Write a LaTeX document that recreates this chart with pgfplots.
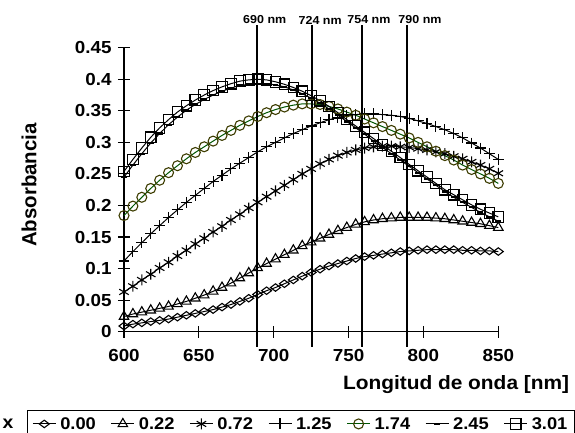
\documentclass[border=0pt]{standalone}
\usepackage{pgfplots}
\pgfplotsset{compat=1.18}
\usepackage{pgfplotstable}
\usepackage{fontspec}
\setmainfont{Liberation Sans}[FakeStretch=1.08]
\newfontfamily\plainfont{Liberation Sans}
\definecolor{olivec}{RGB}{60,60,0}
\definecolor{greenl}{RGB}{0,85,0}

\pgfplotstableread{
nm a b c d e f g
600 0.009 0.024 0.063 0.112 0.184 0.245 0.254
605.95 0.012 0.028 0.072 0.127 0.199 0.264 0.273
611.9 0.014 0.031 0.082 0.141 0.213 0.282 0.291
617.86 0.016 0.034 0.091 0.155 0.227 0.299 0.308
623.81 0.018 0.037 0.101 0.168 0.240 0.314 0.323
629.76 0.020 0.040 0.110 0.181 0.252 0.328 0.336
635.71 0.023 0.044 0.120 0.193 0.263 0.340 0.348
641.67 0.026 0.048 0.129 0.205 0.274 0.351 0.358
647.62 0.029 0.053 0.139 0.216 0.284 0.360 0.367
653.57 0.032 0.058 0.148 0.227 0.293 0.368 0.375
659.52 0.035 0.064 0.158 0.238 0.302 0.375 0.382
665.48 0.039 0.070 0.167 0.248 0.311 0.381 0.388
671.43 0.043 0.077 0.177 0.258 0.319 0.386 0.393
677.38 0.048 0.085 0.186 0.267 0.327 0.390 0.397
683.33 0.053 0.093 0.196 0.276 0.334 0.392 0.399
689.29 0.059 0.101 0.205 0.285 0.341 0.393 0.400
695.24 0.065 0.108 0.214 0.293 0.347 0.393 0.399
701.19 0.070 0.115 0.223 0.300 0.352 0.391 0.396
707.14 0.076 0.122 0.232 0.307 0.356 0.388 0.392
713.1 0.082 0.129 0.241 0.314 0.359 0.383 0.387
719.05 0.088 0.136 0.250 0.320 0.361 0.377 0.381
725 0.094 0.142 0.258 0.326 0.361 0.370 0.374
730.95 0.099 0.148 0.266 0.331 0.360 0.362 0.366
736.9 0.104 0.154 0.273 0.336 0.357 0.353 0.357
742.86 0.108 0.160 0.279 0.339 0.353 0.343 0.347
748.81 0.112 0.165 0.284 0.342 0.348 0.333 0.336
754.76 0.116 0.170 0.288 0.344 0.343 0.323 0.326
760.71 0.119 0.174 0.291 0.345 0.337 0.313 0.316
766.67 0.121 0.177 0.293 0.345 0.331 0.302 0.306
772.62 0.123 0.179 0.294 0.344 0.325 0.292 0.296
778.57 0.125 0.180 0.294 0.343 0.319 0.282 0.286
784.52 0.127 0.181 0.293 0.341 0.313 0.272 0.276
790.48 0.128 0.181 0.292 0.338 0.307 0.262 0.265
796.43 0.129 0.181 0.290 0.334 0.300 0.252 0.255
802.38 0.130 0.181 0.288 0.330 0.293 0.242 0.245
808.33 0.130 0.180 0.285 0.325 0.286 0.232 0.235
814.29 0.130 0.179 0.282 0.320 0.279 0.222 0.225
820.24 0.130 0.177 0.278 0.314 0.272 0.213 0.217
826.19 0.129 0.175 0.274 0.307 0.264 0.205 0.209
832.14 0.129 0.173 0.269 0.299 0.257 0.197 0.201
838.1 0.128 0.171 0.264 0.291 0.250 0.189 0.194
844.05 0.128 0.168 0.258 0.282 0.243 0.182 0.188
850 0.127 0.165 0.251 0.273 0.235 0.175 0.182
}\data

\begin{document}
\begin{tikzpicture}
\begin{axis}[
  name=ax,
  scale only axis,
  width=374.3bp, height=284bp,
  xmin=600, xmax=850, ymin=0, ymax=0.45,
  clip=false,
  axis lines*=left,
  axis line style={line width=1.3pt},
  tick align=center,
  major tick length=12bp,
  tick style={line width=1.1pt, black},
  xtick={600,650,700,750,800,850},
  xticklabels={600,650,700,750,800,850},
  ytick={0,0.05,0.1,0.15,0.2,0.25,0.3,0.35,0.4,0.45},
  yticklabels={0,0.05,0.1,0.15,0.2,0.25,0.3,0.35,0.4,0.45},
  /pgf/number format/assume math mode=true,
  tick label style={font=\bfseries\fontsize{17.5}{17.5}\selectfont},
  yticklabel style={xshift=-3bp},
  xticklabel style={yshift=-8bp},
  every axis plot/.append style={line width=1pt},
  legend columns=7,
  legend style={at={(-0.26,-0.2746)}, anchor=north west, draw=black, line width=1.2pt,
    font=\bfseries\fontsize{17}{17}\selectfont, inner xsep=5bp, inner ysep=5bp,
    /tikz/every even column/.append style={column sep=13bp},
    /tikz/every odd column/.append style={column sep=2bp}},
  legend image code/.code={\draw[mark repeat=2,mark phase=2,line width=1pt] plot coordinates {(0bp,0bp) (11.5bp,0bp) (23bp,0bp)};},
]
\addplot[black, mark=diamond, mark size=5pt, mark options={rotate=90, solid, line width=1.1pt}] table[x=nm,y=a]{\data};
\addlegendentry{0.00}
\addplot[black, mark=triangle, mark size=5.5pt, mark options={line width=1.1pt}] table[x=nm,y=b]{\data};
\addlegendentry{0.22}
\addplot[black, mark=asterisk, mark size=5.5pt, mark options={line width=1.1pt}] table[x=nm,y=c]{\data};
\addlegendentry{0.72}
\addplot[black, mark=+, mark size=5.5pt, mark options={line width=1.1pt}] table[x=nm,y=d]{\data};
\addlegendentry{1.25}
\addplot[greenl, mark=o, mark size=5pt, mark options={draw=olivec, line width=1.1pt}] table[x=nm,y=e]{\data};
\addlegendentry{1.74}
\addplot[black, mark=-, mark size=3pt, mark options={line width=2.2pt}] table[x=nm,y=f]{\data};
\addlegendentry{2.45}
\addplot[black, mark=square, mark size=5.3pt, mark options={line width=1.1pt}] table[x=nm,y=g]{\data};
\addlegendentry{3.01}
\addplot[black, line width=2.5pt, forget plot] coordinates {(689,-0.0238) (689,0.486)};
\addplot[black, line width=2.5pt, forget plot] coordinates {(725.5,-0.0238) (725.5,0.486)};
\addplot[black, line width=2.5pt, forget plot] coordinates {(759,-0.0238) (759,0.486)};
\addplot[black, line width=2.5pt, forget plot] coordinates {(789,-0.0238) (789,0.486)};
\node[font=\bfseries\fontsize{11.6}{11.6}\selectfont] at (axis cs:694,0.4939) {690 nm};
\node[font=\bfseries\fontsize{11.6}{11.6}\selectfont] at (axis cs:731,0.4939) {724 nm};
\node[font=\bfseries\fontsize{11.6}{11.6}\selectfont] at (axis cs:763.6,0.4939) {754 nm};
\node[font=\bfseries\fontsize{11.6}{11.6}\selectfont] at (axis cs:797.7,0.4939) {790 nm};
\end{axis}
\begin{scope}[shift={(ax.south west)}]
\node[anchor=base east, inner sep=0pt, font=\bfseries\fontsize{19.4}{19.4}\selectfont] at (445.3bp,-57.6bp) {Longitud de onda [nm]};
\node[rotate=90, inner sep=0pt, font=\plainfont\bfseries\fontsize{20.5}{20.5}\selectfont] at (-94.8bp,146.7bp) {Absorbancia};
\node[anchor=base, inner sep=0pt, font=\bfseries\fontsize{18}{18}\selectfont] at (-116bp,-97bp) {x};
\pgfresetboundingbox
\path[use as bounding box] (-124bp,-101.3bp) rectangle (451bp,331.7bp);
\end{scope}
\end{tikzpicture}
\end{document}
